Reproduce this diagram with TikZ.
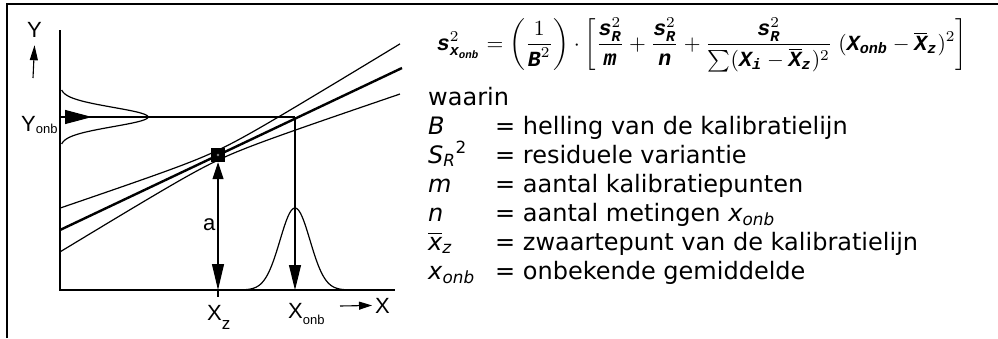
\documentclass[tikz,border=0pt]{standalone}
\usepackage{amsmath}
\usepackage{fontspec}
\setmainfont{DejaVu Sans}
\newfontfamily\helv{Liberation Sans}
\newfontfamily\courfont{Liberation Mono}
\newcommand{\cv}[1]{\text{\courfont\bfseries\itshape #1}}
\newcommand{\lsub}[2]{\raisebox{#1}{\fontsize{13}{13}\selectfont #2}}
\usetikzlibrary{arrows.meta,positioning}

\begin{document}
\begin{tikzpicture}[x=1pt, y=-1pt,
    lbl/.style={font=\helv\fontsize{22}{26}\selectfont, inner sep=0pt, anchor=base west},
    txt/.style={font=\fontsize{24}{29}\selectfont, inner sep=0pt, anchor=base west},
    axis/.style={line width=1.1pt},
    band/.style={line width=1.2pt},
    tip/.style={-{Triangle[length=25pt, width=12pt]}, line width=1.1pt}
  ]
  \useasboundingbox (0,0) rectangle (998,338);
  \draw[line width=1.6pt] (7,338) -- (7,4) -- (998,4);

  % grafiek
  \coordinate (O)    at (60,290);
  \coordinate (ytop) at (60,30);
  \coordinate (xend) at (395,290);
  \coordinate (yonb) at (60,117);
  \coordinate (hit)  at (295,117);
  \coordinate (xonb) at (295,290);
  \coordinate (xz)   at (218,290);
  \draw[axis] (ytop) -- (O) -- (xend);

  \draw[line width=2.4pt] (60,230) -- (402,68);
  \draw[band] plot[domain=60:400, samples=90]
    (\x, {230-0.4737*(\x-60)-sqrt(25+(0.135*(\x-218))^2)});
  \draw[band] plot[domain=60:400, samples=90]
    (\x, {230-0.4737*(\x-60)+sqrt(25+(0.135*(\x-218))^2)});

  \draw[band] plot[domain=90:144, samples=90]
    ({60+88*exp(-((\x-117)/9.6)^2/2)}, \x);
  \draw[band] plot[domain=240:350, samples=90]
    (\x, {290-82*exp(-((\x-295)/15)^2/2)});

  \draw[-{Triangle[length=27pt, width=14pt]}, axis] (yonb) -- ++(32,0);
  \draw[axis] (yonb) -- (hit);
  \draw[tip] (hit) -- (xonb);

  \node[fill, minimum size=14pt, inner sep=0pt] (zw) at (218,155) {};
  \fill[gray] (zw.center) circle (1.3pt);
  \draw[{Triangle[length=17pt, width=11pt]}-{Triangle[length=26pt, width=12pt]}, axis]
    (zw.south) -- (xz);
  \draw[axis] (xz) -- ++(0,7);

  \node[lbl] (ylab)    at (27,37)   {Y};
  \node[lbl] (yonblab) at (21,131)  {Y\lsub{-2pt}{onb}};
  \node[lbl] (alab)    at (203,230) {a};
  \node[lbl] (xzlab)   at (207,320) {X\raisebox{-9pt}{\fontsize{17}{17}\selectfont z}};
  \node[lbl] (xonblab) at (288,318) {X\lsub{-6pt}{onb}};
  \node[lbl] (xlab)    at (375,313) {X};
  \coordinate (yfoot) at (33,78);
  \coordinate (xfoot) at (340,306);
  \draw[-{Triangle[length=15pt, width=8pt]}, axis] (yfoot) -- ([yshift=-8pt]ylab.south);
  \draw[-{Triangle[length=13pt, width=8pt]}, axis] (xfoot) -- ([xshift=-3pt]xlab.west);

  % formule
  \node[inner sep=0pt] (form) at (702,45) {\resizebox{530pt}{!}{$\displaystyle
    \cv{s}^{2}_{\cv{x}_{\cv{onb}}} = \left(\frac{1}{\cv{B}^{2}}\right)\cdot
    \left[\frac{\cv{s}_{\cv{R}}^{2}}{\cv{m}} + \frac{\cv{s}_{\cv{R}}^{2}}{\cv{n}}
    + \frac{\cv{s}_{\cv{R}}^{2}}{\sum(\cv{X}_{\cv{i}}-\overline{\cv{X}}_{\cv{z}})^{2}}\;
    (\cv{X}_{\cv{onb}}-\overline{\cv{X}}_{\cv{z}})^{2}\right]$}};

  % legenda
  \node[txt] (waarin) at (428,105) {waarin};
  \node[txt] (vB)  at (428,134) {\textit{B}};
  \node[txt] (eB)  at (495,134) {= helling van de kalibratielijn};
  \node[txt] (vS)  at (428,163) {\textit{S}\textsubscript{\itshape R}\textsuperscript{2}};
  \node[txt] (eS)  at (495,163) {= residuele variantie};
  \node[txt] (vm)  at (428,192) {\textit{m}};
  \node[txt] (em)  at (495,192) {= aantal kalibratiepunten};
  \node[txt] (vn)  at (428,221) {\textit{n}};
  \node[txt] (en)  at (495,221) {= aantal metingen \textit{x}\textsubscript{\itshape onb}};
  \node[txt] (vxz) at (428,250) {$\overline{\text{\itshape x}}$\textsubscript{\itshape z}};
  \node[txt] (exz) at (495,250) {= zwaartepunt van de kalibratielijn};
  \node[txt] (vx)  at (428,279) {\textit{x}\textsubscript{\itshape onb}};
  \node[txt] (ex)  at (495,279) {= onbekende gemiddelde};
\end{tikzpicture}
\end{document}
